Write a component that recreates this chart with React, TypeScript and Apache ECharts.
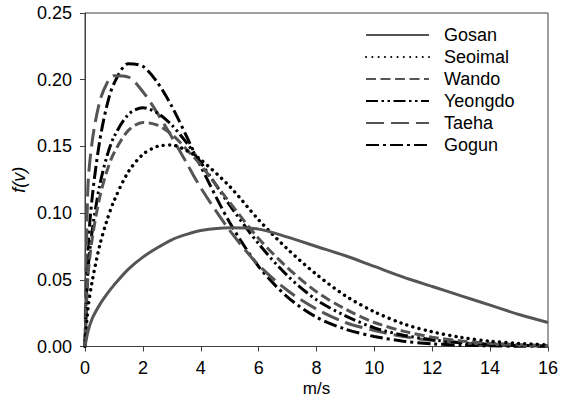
import React, { useEffect, useRef } from "react";
import * as echarts from "echarts";

const speeds = [0, 0.1, 0.25, 0.5, 0.75, 1, 1.5, 2, 2.5, 3, 3.5, 4, 5, 6, 7, 8, 9, 10, 11, 12, 13, 14, 15, 16];

const gosan = [0, 0.011, 0.021, 0.031, 0.039, 0.046, 0.058, 0.067, 0.074, 0.080, 0.084, 0.087, 0.089, 0.088, 0.082, 0.075, 0.068, 0.060, 0.052, 0.045, 0.038, 0.031, 0.024, 0.018];
const seoimal = [0, 0.028, 0.049, 0.075, 0.094, 0.109, 0.131, 0.144, 0.150, 0.151, 0.147, 0.140, 0.120, 0.095, 0.073, 0.054, 0.038, 0.026, 0.017, 0.011, 0.0068, 0.004, 0.0023, 0.0013];
const wando = [0, 0.052, 0.081, 0.111, 0.131, 0.145, 0.162, 0.168, 0.166, 0.159, 0.148, 0.136, 0.108, 0.081, 0.059, 0.041, 0.028, 0.018, 0.0115, 0.007, 0.0042, 0.0025, 0.0014, 0.0008];
const yeongdo = [0, 0.056, 0.087, 0.120, 0.142, 0.157, 0.174, 0.179, 0.175, 0.166, 0.153, 0.138, 0.106, 0.077, 0.053, 0.035, 0.023, 0.014, 0.0085, 0.005, 0.0028, 0.0015, 0.0008, 0.0004];
const taeha = [0, 0.119, 0.154, 0.183, 0.197, 0.203, 0.202, 0.191, 0.175, 0.157, 0.138, 0.119, 0.087, 0.061, 0.042, 0.028, 0.018, 0.012, 0.0075, 0.0046, 0.0028, 0.0017, 0.001, 0.0006];
const gogun = [0, 0.072, 0.112, 0.153, 0.180, 0.197, 0.212, 0.210, 0.198, 0.180, 0.158, 0.135, 0.093, 0.060, 0.037, 0.022, 0.013, 0.0075, 0.004, 0.002, 0.001, 0.0005, 0.0002, 0.0001];

const seriesNames = ["Gosan", "Seoimal", "Wando", "Yeongdo", "Taeha", "Gogun"];
const seriesValues = [gosan, seoimal, wando, yeongdo, taeha, gogun];

const FONT = 'Arial, "Liberation Sans", sans-serif';

const lineStyles: any[] = [
  { color: "#555555", width: 3, type: "solid" },
  { color: "#000000", width: 3.4, type: [0.1, 6.2], cap: "round" },
  { color: "#555555", width: 3, type: [10, 4.5] },
  { color: "#000000", width: 3, type: [12, 3.5, 2.5, 3.5, 2.5, 3.5] },
  { color: "#555555", width: 3, type: [18, 7] },
  { color: "#000000", width: 3, type: [13, 4, 3, 4] },
];

export default function App() {
  const ref = useRef<HTMLDivElement>(null);
  useEffect(() => {
    document.body.style.margin = "0";
    if (!ref.current) return;
    const chart = echarts.init(ref.current, null, { renderer: "svg" });
    const axisColor = "#404040";
    chart.setOption({
      animation: false,
      backgroundColor: "#ffffff",
      grid: {
        left: 85,
        right: 18,
        top: 13,
        bottom: 50.5,
        containLabel: false,
        outerBoundsMode: "none",
        show: true,
        borderColor: axisColor,
        borderWidth: 1,
      },
      legend: {
        orient: "vertical",
        left: 360,
        top: 21,
        itemWidth: 63,
        itemHeight: 14,
        itemGap: 4,
        data: seriesNames,
        itemStyle: { opacity: 0 },
        textStyle: { fontSize: 18, color: "#000", fontFamily: FONT, padding: [0, 0, 0, 10] },
      },
      xAxis: {
        type: "value",
        min: 0,
        max: 16,
        interval: 2,
        name: "m/s",
        nameLocation: "middle",
        nameGap: 33,
        nameMoveOverlap: false,
        nameTextStyle: { fontSize: 17, color: "#000", fontFamily: FONT },
        axisLine: { lineStyle: { color: axisColor, width: 1 } },
        axisTick: { show: true, inside: false, length: 5, lineStyle: { color: axisColor } },
        axisLabel: { fontSize: 18, color: "#000", fontFamily: FONT, margin: 12 },
        splitLine: { show: false },
      },
      yAxis: {
        type: "value",
        min: 0,
        max: 0.25,
        interval: 0.05,
        name: "f(v)",
        nameLocation: "middle",
        nameGap: 57,
        nameMoveOverlap: false,
        nameTextStyle: { fontSize: 18, color: "#000", fontFamily: FONT, fontStyle: "italic" },
        axisLine: { show: true, lineStyle: { color: axisColor, width: 1 } },
        axisTick: { show: true, inside: false, length: 5, lineStyle: { color: axisColor } },
        axisLabel: {
          fontSize: 18,
          color: "#000",
          fontFamily: FONT,
          margin: 13,
          formatter: (v: number) => v.toFixed(2),
        },
        splitLine: { show: false },
      },
      series: seriesNames.map((name, i) => ({
        name,
        type: "line",
        data: speeds.map((s, j) => [s, seriesValues[i][j]]),
        smooth: 0.3,
        symbol: "none",
        showSymbol: false,
        lineStyle: lineStyles[i],
        itemStyle: { color: lineStyles[i].color, opacity: 0 },
        z: 10 - i,
      })),
    });
    return () => chart.dispose();
  }, []);
  return <div ref={ref} style={{ width: 566, height: 397 }} />;
}
